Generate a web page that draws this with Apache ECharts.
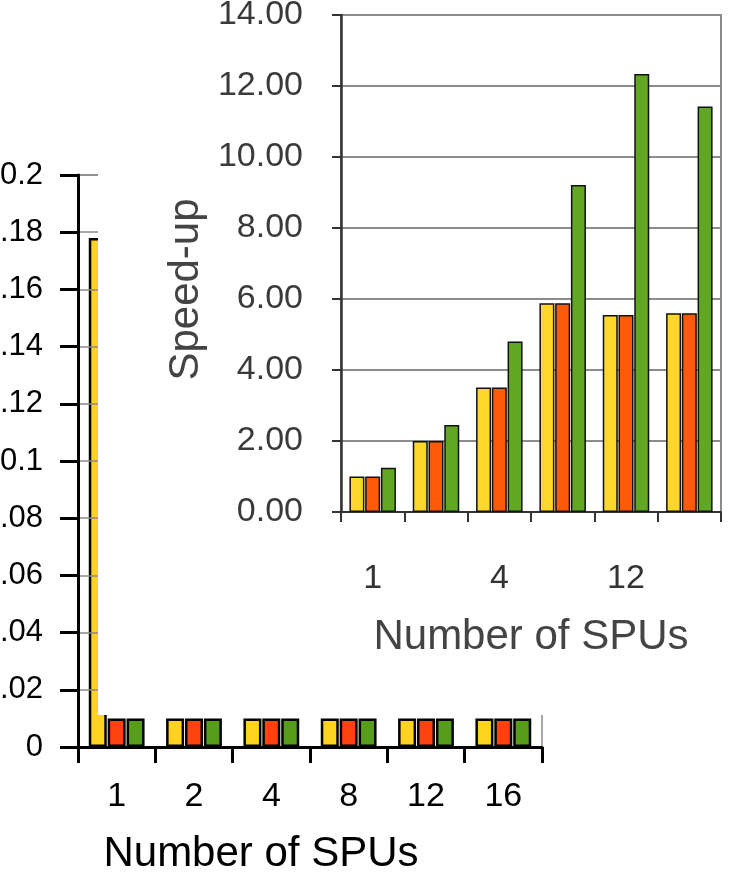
<!DOCTYPE html>
<html>
<head>
<meta charset="utf-8">
<script src="https://cdn.jsdelivr.net/npm/echarts@6/dist/echarts.min.js"></script>
<style>
html,body{margin:0;padding:0;background:#fff;}
#c{width:730px;height:881px;}
</style>
</head>
<body>
<div id="c"></div>
<script>
// ---- data ----
var categories = ['1', '2', '4', '8', '12', '16'];
// main (back) chart: execution time
var mainYellow = [0.178, 0.01, 0.01, 0.01, 0.01, 0.01];
var mainRed    = [0.01, 0.01, 0.01, 0.01, 0.01, 0.01];
var mainGreen  = [0.01, 0.01, 0.01, 0.01, 0.01, 0.01];
// inset chart: speed-up
var insetYellow = [1.00, 2.00, 3.51, 5.88, 5.55, 5.60];
var insetRed    = [1.00, 2.00, 3.51, 5.88, 5.55, 5.60];
var insetGreen  = [1.25, 2.45, 4.80, 9.21, 12.34, 11.42];
var mainTickMax = 0.2, mainTickStep = 0.02;
var insetTickMax = 14, insetTickStep = 2;
var xTitle = 'Number of SPUs';
var yTitleInset = 'Speed-up';

var FONT = '"Liberation Sans", Arial, sans-serif';
var chart = echarts.init(document.getElementById('c'), null, {renderer: 'canvas'});

function mainBar(data, color) {
  return {
    type: 'bar', xAxisIndex: 0, yAxisIndex: 0, data: data, z: 2,
    barWidth: 18, barGap: '5%',
    itemStyle: {color: color, borderColor: '#000', borderWidth: 2.5},
    emphasis: {disabled: true}, silent: true
  };
}
function insetBar(data, color) {
  return {
    type: 'bar', xAxisIndex: 1, yAxisIndex: 1, data: data, z: 100,
    barWidth: 15, barGap: '5%',
    itemStyle: {color: color, borderColor: '#111', borderWidth: 1.5},
    emphasis: {disabled: true}, silent: true
  };
}

chart.setOption({
  animation: false,
  backgroundColor: '#fff',
  textStyle: {fontFamily: FONT},
  grid: [
    {left: 78, right: 188, top: 175, bottom: 134, containLabel: false, outerBoundsMode: 'none',
     show: true, borderColor: '#8a8a8a', borderWidth: 1.5, backgroundColor: 'transparent', z: 0},
    {left: 341, right: 9, top: 15, bottom: 369, containLabel: false, outerBoundsMode: 'none',
     show: true, borderColor: '#8c8c8c', borderWidth: 2, backgroundColor: 'transparent', z: 100}
  ],
  xAxis: [
    {type: 'category', gridIndex: 0, data: categories, z: 3,
     axisLine: {lineStyle: {color: '#000', width: 3}},
     axisTick: {show: true, length: 16, lineStyle: {color: '#000', width: 3}},
     axisLabel: {fontSize: 34, color: '#000', margin: 33, fontFamily: FONT},
     name: xTitle, nameLocation: 'middle', nameGap: 86,
     nameTextStyle: {fontSize: 42, color: '#000', fontFamily: FONT, padding: [0, 98, 0, 0]},
     splitLine: {show: false}},
    {type: 'category', gridIndex: 1, data: categories, z: 100,
     axisLine: {lineStyle: {color: '#333', width: 2}},
     axisTick: {show: true, interval: 0, length: 10, lineStyle: {color: '#333', width: 2}},
     axisLabel: {fontSize: 34, color: '#333', margin: 50, interval: 1, fontFamily: FONT},
     name: xTitle, nameLocation: 'middle', nameGap: 104,
     nameTextStyle: {fontSize: 42, color: '#444', fontFamily: FONT},
     splitLine: {show: false}}
  ],
  yAxis: [
    {type: 'value', gridIndex: 0, min: 0, max: mainTickMax, interval: mainTickStep, z: 3,
     axisLine: {show: true, lineStyle: {color: '#000', width: 3}},
     axisTick: {show: true, length: 18, lineStyle: {color: '#000', width: 3}},
     axisLabel: {fontSize: 31, color: '#000', margin: 35, fontFamily: FONT,
       formatter: function (v) { return String(+v.toFixed(2)); }},
     splitLine: {show: true, lineStyle: {color: '#8a8a8a', width: 1.5}}},
    {type: 'value', gridIndex: 1, min: 0, max: insetTickMax, interval: insetTickStep, z: 100,
     axisLine: {show: true, lineStyle: {color: '#333', width: 2.5}},
     axisTick: {show: true, length: 9, lineStyle: {color: '#333', width: 2}},
     axisLabel: {fontSize: 34, color: '#3a3a3a', margin: 38, fontFamily: FONT,
       formatter: function (v) { return v.toFixed(2); }},
     splitLine: {show: true, lineStyle: {color: '#8c8c8c', width: 2}},
     name: yTitleInset, nameLocation: 'middle', nameGap: 132, nameRotate: 90,
     nameTextStyle: {fontSize: 42, color: '#444', fontFamily: FONT, padding: [0, 52, 0, 0]}}
  ],
  graphic: [
    {type: 'rect', left: 98, top: 0, shape: {width: 632, height: 715}, z: 50,
     style: {fill: '#fff'}, silent: true}
  ],
  series: [
    mainBar(mainYellow, '#ffd320'),
    mainBar(mainRed, '#ff420e'),
    mainBar(mainGreen, '#579d1c'),
    insetBar(insetYellow, '#ffd62a'),
    insetBar(insetRed, '#ff5a0a'),
    insetBar(insetGreen, '#62a723')
  ]
});
</script>
</body>
</html>
